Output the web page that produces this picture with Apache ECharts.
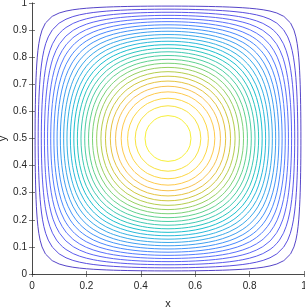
<!DOCTYPE html>
<html><head><meta charset="utf-8">
<script src="https://cdn.jsdelivr.net/npm/echarts@6/dist/echarts.min.js"></script>
<style>html,body{margin:0;padding:0;background:#fff}#c{width:305px;height:307px}</style>
</head><body><div id="c"></div>
<script>
// Sample grid of the surface z = sin(pi x) sin(pi y) on [0,1]^2 (step 0.025)
const gridX = [0,0.025,0.05,0.075,0.1,0.125,0.15,0.175,0.2,0.225,0.25,0.275,0.3,0.325,0.35,0.375,0.4,0.425,0.45,0.475,0.5,
  0.525,0.55,0.575,0.6,0.625,0.65,0.675,0.7,0.725,0.75,0.775,0.8,0.825,0.85,0.875,0.9,0.925,0.95,0.975,1];
const gridY = gridX.slice();
// contour levels (evenly spaced between min 0 and max 1)
const levelCount = 27;
const xTicks = [0,0.2,0.4,0.6,0.8,1];
const yTicks = [0,0.1,0.2,0.3,0.4,0.5,0.6,0.7,0.8,0.9,1];
const parula = [
[0.2422,0.1504,0.6603],[0.2504,0.1650,0.7076],[0.2578,0.1818,0.7511],[0.2647,0.1978,0.7952],
[0.2706,0.2147,0.8364],[0.2751,0.2342,0.8710],[0.2783,0.2559,0.8991],[0.2803,0.2782,0.9221],
[0.2813,0.3006,0.9414],[0.2810,0.3228,0.9579],[0.2795,0.3447,0.9717],[0.2760,0.3667,0.9829],
[0.2699,0.3892,0.9906],[0.2602,0.4123,0.9952],[0.2440,0.4358,0.9988],[0.2206,0.4603,0.9973],
[0.1963,0.4847,0.9892],[0.1834,0.5074,0.9798],[0.1786,0.5289,0.9682],[0.1764,0.5499,0.9520],
[0.1687,0.5703,0.9359],[0.1540,0.5902,0.9218],[0.1460,0.6091,0.9079],[0.1380,0.6276,0.8973],
[0.1248,0.6459,0.8883],[0.1113,0.6635,0.8763],[0.0952,0.6798,0.8598],[0.0689,0.6948,0.8394],
[0.0297,0.7082,0.8163],[0.0036,0.7203,0.7917],[0.0067,0.7312,0.7660],[0.0433,0.7411,0.7394],
[0.0964,0.7500,0.7120],[0.1408,0.7584,0.6842],[0.1717,0.7670,0.6554],[0.1938,0.7758,0.6251],
[0.2161,0.7843,0.5923],[0.2470,0.7918,0.5567],[0.2906,0.7973,0.5188],[0.3406,0.8008,0.4789],
[0.3909,0.8029,0.4354],[0.4456,0.8024,0.3909],[0.5044,0.7993,0.3480],[0.5616,0.7942,0.3045],
[0.6174,0.7876,0.2612],[0.6720,0.7793,0.2227],[0.7242,0.7698,0.1910],[0.7738,0.7598,0.1646],
[0.8203,0.7498,0.1535],[0.8634,0.7406,0.1596],[0.9035,0.7330,0.1774],[0.9393,0.7288,0.2100],
[0.9728,0.7298,0.2394],[0.9956,0.7434,0.2371],[0.9970,0.7659,0.2199],[0.9952,0.7893,0.2028],
[0.9892,0.8136,0.1885],[0.9786,0.8386,0.1766],[0.9676,0.8639,0.1643],[0.9610,0.8890,0.1537],
[0.9597,0.9135,0.1423],[0.9628,0.9373,0.1265],[0.9691,0.9606,0.1064],[0.9769,0.9839,0.0805]];

function cmap(t){
  t = Math.max(0, Math.min(1, t));
  const p = t * (parula.length - 1), i = Math.floor(p), f = p - i;
  const a = parula[i], b = parula[Math.min(i + 1, parula.length - 1)];
  const c = a.map((v, k) => Math.round(255 * (v + (b[k] - v) * f)));
  return 'rgb(' + c.join(',') + ')';
}

// surface values on the grid
const Z = gridX.map(x => gridY.map(y => Math.sin(Math.PI * x) * Math.sin(Math.PI * y)));
let zmin = Infinity, zmax = -Infinity;
Z.forEach(r => r.forEach(v => { zmin = Math.min(zmin, v); zmax = Math.max(zmax, v); }));
const levels = [];
for (let k = 1; k <= levelCount; k++) levels.push(zmin + (zmax - zmin) * k / (levelCount + 1));

function contour(c){
  const nx = gridX.length, ny = gridY.length;
  const pts = {};
  const segs = [];
  function edgePoint(i0, j0, i1, j1){
    const za = Z[i0][j0], zb = Z[i1][j1];
    if ((za < c) === (zb < c)) return null;
    const t = (c - za) / (zb - za);
    const key = i0 + ',' + j0 + ',' + i1 + ',' + j1;
    if (!pts[key]) pts[key] = [gridX[i0] + t * (gridX[i1] - gridX[i0]), gridY[j0] + t * (gridY[j1] - gridY[j0])];
    return key;
  }
  for (let i = 0; i < nx - 1; i++) for (let j = 0; j < ny - 1; j++) {
    const e = [edgePoint(i, j, i + 1, j), edgePoint(i + 1, j, i + 1, j + 1), edgePoint(i, j + 1, i + 1, j + 1), edgePoint(i, j, i, j + 1)].filter(Boolean);
    for (let k = 0; k + 1 < e.length; k += 2) segs.push([e[k], e[k + 1]]);
  }
  const adj = {};
  segs.forEach((s, idx) => { (adj[s[0]] = adj[s[0]] || []).push(idx); (adj[s[1]] = adj[s[1]] || []).push(idx); });
  const used = new Array(segs.length).fill(false);
  const lines = [];
  function walk(startKey){
    const path = [startKey];
    let cur = startKey;
    while (true) {
      const next = (adj[cur] || []).find(id => !used[id]);
      if (next === undefined) break;
      used[next] = true;
      cur = segs[next][0] === cur ? segs[next][1] : segs[next][0];
      path.push(cur);
    }
    return path.map(k => pts[k]);
  }
  Object.keys(adj).forEach(k => { if (adj[k].length === 1 && !used[adj[k][0]]) lines.push(walk(k)); });
  segs.forEach((s, idx) => { if (!used[idx]) lines.push(walk(s[0])); });
  return lines;
}

const series = levels.map(c => ({
  type: 'lines', coordinateSystem: 'cartesian2d', polyline: true, silent: true,
  xAxisIndex: 0, yAxisIndex: 0, animation: false,
  lineStyle: { color: cmap((c - zmin) / (zmax - zmin)), width: 0.9, opacity: 1 },
  data: contour(c).map(p => ({ coords: p }))
}));

const axisCol = '#262626';
const font = 'Liberation Sans, Arial, Helvetica, sans-serif';
const baseAxis = {
  type: 'value', min: 0, max: 1,
  axisLine: { show: true, lineStyle: { color: axisCol, width: 0.6 } },
  axisTick: { show: true, inside: true, length: 3, lineStyle: { color: axisCol, width: 0.6 } },
  splitLine: { show: false }
};
const chart = echarts.init(document.getElementById('c'), null, { renderer: 'canvas' });
chart.setOption({
  animation: false,
  backgroundColor: '#fff',
  grid: { left: 32, top: 3, right: 1, bottom: 33, containLabel: false, outerBoundsMode: 'none' },
  xAxis: [
    Object.assign({}, baseAxis, { position: 'bottom', interval: xTicks[1] - xTicks[0],
      axisLabel: { color: axisCol, fontSize: 10, fontFamily: font, margin: 7 },
      name: 'x', nameLocation: 'middle', nameGap: 24, nameMoveOverlap: false,
      nameTextStyle: { color: axisCol, fontSize: 11, fontFamily: font } }),
    Object.assign({}, baseAxis, { position: 'top', interval: xTicks[1] - xTicks[0], axisLabel: { show: false } })
  ],
  yAxis: [
    Object.assign({}, baseAxis, { position: 'left', interval: yTicks[1] - yTicks[0],
      axisLabel: { color: axisCol, fontSize: 10, fontFamily: font, margin: 5 },
      name: 'y', nameLocation: 'middle', nameGap: 24, nameRotate: 90, nameMoveOverlap: false,
      nameTextStyle: { color: axisCol, fontSize: 11, fontFamily: font } }),
    Object.assign({}, baseAxis, { position: 'right', interval: yTicks[1] - yTicks[0], axisLabel: { show: false } })
  ],
  series: series
});
</script></body></html>
